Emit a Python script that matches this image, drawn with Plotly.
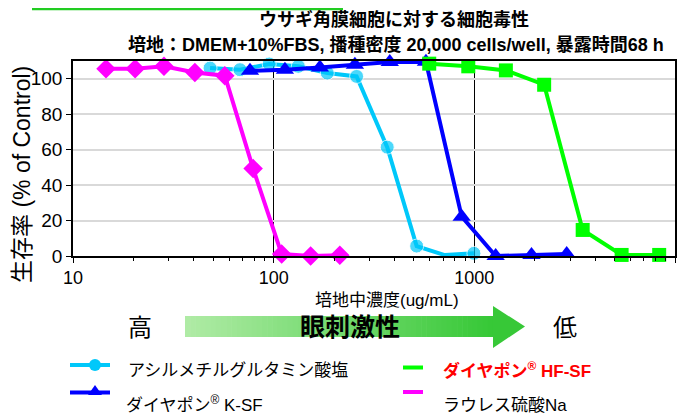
import plotly.graph_objects as go

# ---- data ----
acyl_x = [48.2, 67.9, 95, 132.7, 185, 259, 368, 516, 713, 995]
acyl_y = [106, 105.1, 108.3, 107, 103.2, 101.3, 61.4, 5.6, 0.5, 1.5]

ksf_x = [76.2, 113.8, 170, 254, 379, 574, 865, 1277, 1927, 2886]
ksf_y = [104.5, 105.1, 106.4, 107.9, 109.4, 109.6, 22.2, 0, 0.6, 1.1]

hfsf_x = [596, 933, 1436, 2228, 3467, 5420, 8340]
hfsf_y = [108.5, 107, 104.7, 96.6, 14.7, 0.6, 0.6]

sls_x = [14.6, 20.4, 28.4, 40.5, 57.1, 79, 109.6, 152.8, 213.6]
sls_y = [105.6, 105.6, 107, 103.5, 101.7, 49.3, 1.1, 0, 0.4]

x_tickvals = [10, 100, 1000, 10000]
x_ticktext = ["10", "100", "1000", "10000"]
x_minor_vals = [m * d for d in (10, 100, 1000) for m in range(2, 10)]
y_tickvals = [0, 20, 40, 60, 80, 100]

names = ["アシルメチルグルタミン酸塩", "ダイヤポン<sup>®</sup> K-SF",
         "ダイヤポン<sup>®</sup> HF-SF", "ラウレス硫酸Na"]

# ---- styles ----
CYAN = "#00C8FA"
BLUE = "#0000FF"
GREEN = "#00FF00"
PINK = "#FF00FF"
FONT = "Liberation Sans, Arial, Noto Sans CJK JP"

OFF = 8  # page body margin
W, H = 700 - OFF, 414 - OFF
# plot area in screen pixels: x 73..675, y 61..256
L, T = 73 - OFF, 61 - OFF
R = W - (675 - OFF)
B = H - (256 - OFF)
PW, PH = W - L - R, H - T - B


def px(xs):
    return (xs - OFF - L) / PW


def py(ys):
    return (H - B - (ys - OFF)) / PH


fig = go.Figure()

# transparent copy of one series on the overlay axis that carries the minor ticks
fig.add_trace(go.Scatter(x=sls_x, y=sls_y, xaxis="x2", mode="lines", opacity=0,
                         line=dict(color="white", width=0), hoverinfo="skip", showlegend=False))

acyl_sizes = [14] * len(acyl_x)
acyl_sizes[8] = 0
fig.add_trace(go.Scatter(x=acyl_x, y=acyl_y, mode="lines+markers", name=names[0],
                         line=dict(color=CYAN, width=4),
                         marker=dict(symbol="circle", size=acyl_sizes, color=CYAN),
                         cliponaxis=False))
fig.add_trace(go.Scatter(x=ksf_x, y=ksf_y, mode="lines+markers", name=names[1],
                         line=dict(color=BLUE, width=4),
                         marker=dict(symbol="triangle-up", size=16, color=BLUE),
                         cliponaxis=False))
fig.add_trace(go.Scatter(x=hfsf_x, y=hfsf_y, mode="lines+markers", name=names[2],
                         line=dict(color=GREEN, width=4),
                         marker=dict(symbol="square", size=14, color=GREEN),
                         cliponaxis=False))
fig.add_trace(go.Scatter(x=sls_x, y=sls_y, mode="lines+markers", name=names[3],
                         line=dict(color=PINK, width=4),
                         marker=dict(symbol="diamond", size=15, color=PINK),
                         cliponaxis=False))

shapes = []
annotations = []

# green box edge at top (as close to the top as the page allows)
shapes.append(dict(type="line", xref="paper", yref="paper",
                   x0=px(32), x1=px(343), y0=py(OFF + 1), y1=py(OFF + 1),
                   line=dict(color="#22CC22", width=2.5)))

# gradient arrow
x_start, x_body_end, x_tip = 185, 493, 525
y_top, y_bot = 316, 337
c0 = (175, 235, 165)
c1 = (55, 200, 55)
n = 60
for i in range(n):
    t = i / (n - 1)
    c = tuple(int(round(c0[k] + (c1[k] - c0[k]) * t)) for k in range(3))
    xa = x_start + (x_body_end - x_start) * i / n
    xb = x_start + (x_body_end - x_start) * (i + 1) / n + 0.6
    shapes.append(dict(type="rect", xref="paper", yref="paper",
                       x0=px(xa), x1=px(xb), y0=py(y_bot), y1=py(y_top),
                       line=dict(width=0), fillcolor="rgb(%d,%d,%d)" % c, layer="above"))
shapes.append(dict(type="path", xref="paper", yref="paper",
                   path="M %f %f L %f %f L %f %f Z" % (px(x_body_end), py(306), px(x_tip), py(326.5),
                                                       px(x_body_end), py(348)),
                   line=dict(width=0), fillcolor="rgb(55,200,55)", layer="above"))


def leg_line(x0, x1, y, color):
    shapes.append(dict(type="line", xref="paper", yref="paper",
                       x0=px(x0), x1=px(x1), y0=py(y), y1=py(y),
                       line=dict(color=color, width=4)))


leg_line(70, 110, 365, CYAN)
shapes.append(dict(type="circle", xref="paper", yref="paper",
                   x0=px(89), x1=px(101), y0=py(371), y1=py(359),
                   fillcolor=CYAN, line=dict(width=0)))
leg_line(70, 110, 392.5, BLUE)
shapes.append(dict(type="path", xref="paper", yref="paper",
                   path="M %f %f L %f %f L %f %f Z" % (px(88), py(395), px(95), py(385), px(102), py(395)),
                   fillcolor=BLUE, line=dict(width=0)))
leg_line(403, 423, 367.5, GREEN)
leg_line(403, 423, 392, PINK)


def ann(text, x, y, size, color="black", bold=False, xanchor="center", angle=0):
    if bold:
        text = "<b>" + text + "</b>"
    annotations.append(dict(text=text, xref="paper", yref="paper", x=px(x), y=py(y),
                            xanchor=xanchor, yanchor="middle", showarrow=False,
                            textangle=angle,
                            font=dict(family=FONT, size=size, color=color)))


ann("ウサギ角膜細胞に対する細胞毒性", 394, 20, 18, bold=True)
ann("培地：DMEM+10%FBS, 播種密度 20,000 cells/well, 暴露時間68 h", 396, 45, 18, bold=True)
ann("生存率 (% of Control)", 22, 175, 23, angle=-90)
ann("培地中濃度(ug/mL)", 387, 300, 17)
ann("高", 140, 327, 24)
ann("低", 565, 327, 24)
ann("眼刺激性", 350, 327, 25, bold=True)
ann(names[0], 126, 370, 17, xanchor="left")
ann(names[1], 124, 404, 17, xanchor="left")
ann(names[2], 441, 370, 17, color="#FF0000", bold=True, xanchor="left")
ann(names[3], 441, 405, 17, xanchor="left")

fig.update_layout(
    width=W, height=H,
    margin=dict(l=L, r=R, t=T, b=B, pad=0),
    plot_bgcolor="white", paper_bgcolor="white",
    showlegend=False,
    shapes=shapes, annotations=annotations,
    font=dict(family=FONT, size=16, color="black"),
    xaxis=dict(type="log", range=[1, 4], tickvals=x_tickvals, ticktext=x_ticktext,
               showgrid=True, gridcolor="black", gridwidth=1,
               showline=True, linecolor="black", linewidth=1.5, mirror=True,
               ticks="outside", ticklen=5, tickcolor="black",
               tickfont=dict(family=FONT, size=18), zeroline=False),
    xaxis2=dict(type="log", range=[1, 4], overlaying="x", side="bottom", anchor="y",
                tickmode="array", tickvals=x_minor_vals, ticks="outside", ticklen=4,
                tickcolor="black", tickwidth=1, showticklabels=False,
                showgrid=False, showline=False, zeroline=False),
    yaxis=dict(range=[0, 110], tickvals=y_tickvals,
               showgrid=True, gridcolor="#D9D9D9", gridwidth=2,
               showline=True, linecolor="black", linewidth=1.5, mirror=True,
               ticks="outside", ticklen=5, tickcolor="black",
               tickfont=dict(family=FONT, size=19), zeroline=False),
)

fig.write_html("out.html")
